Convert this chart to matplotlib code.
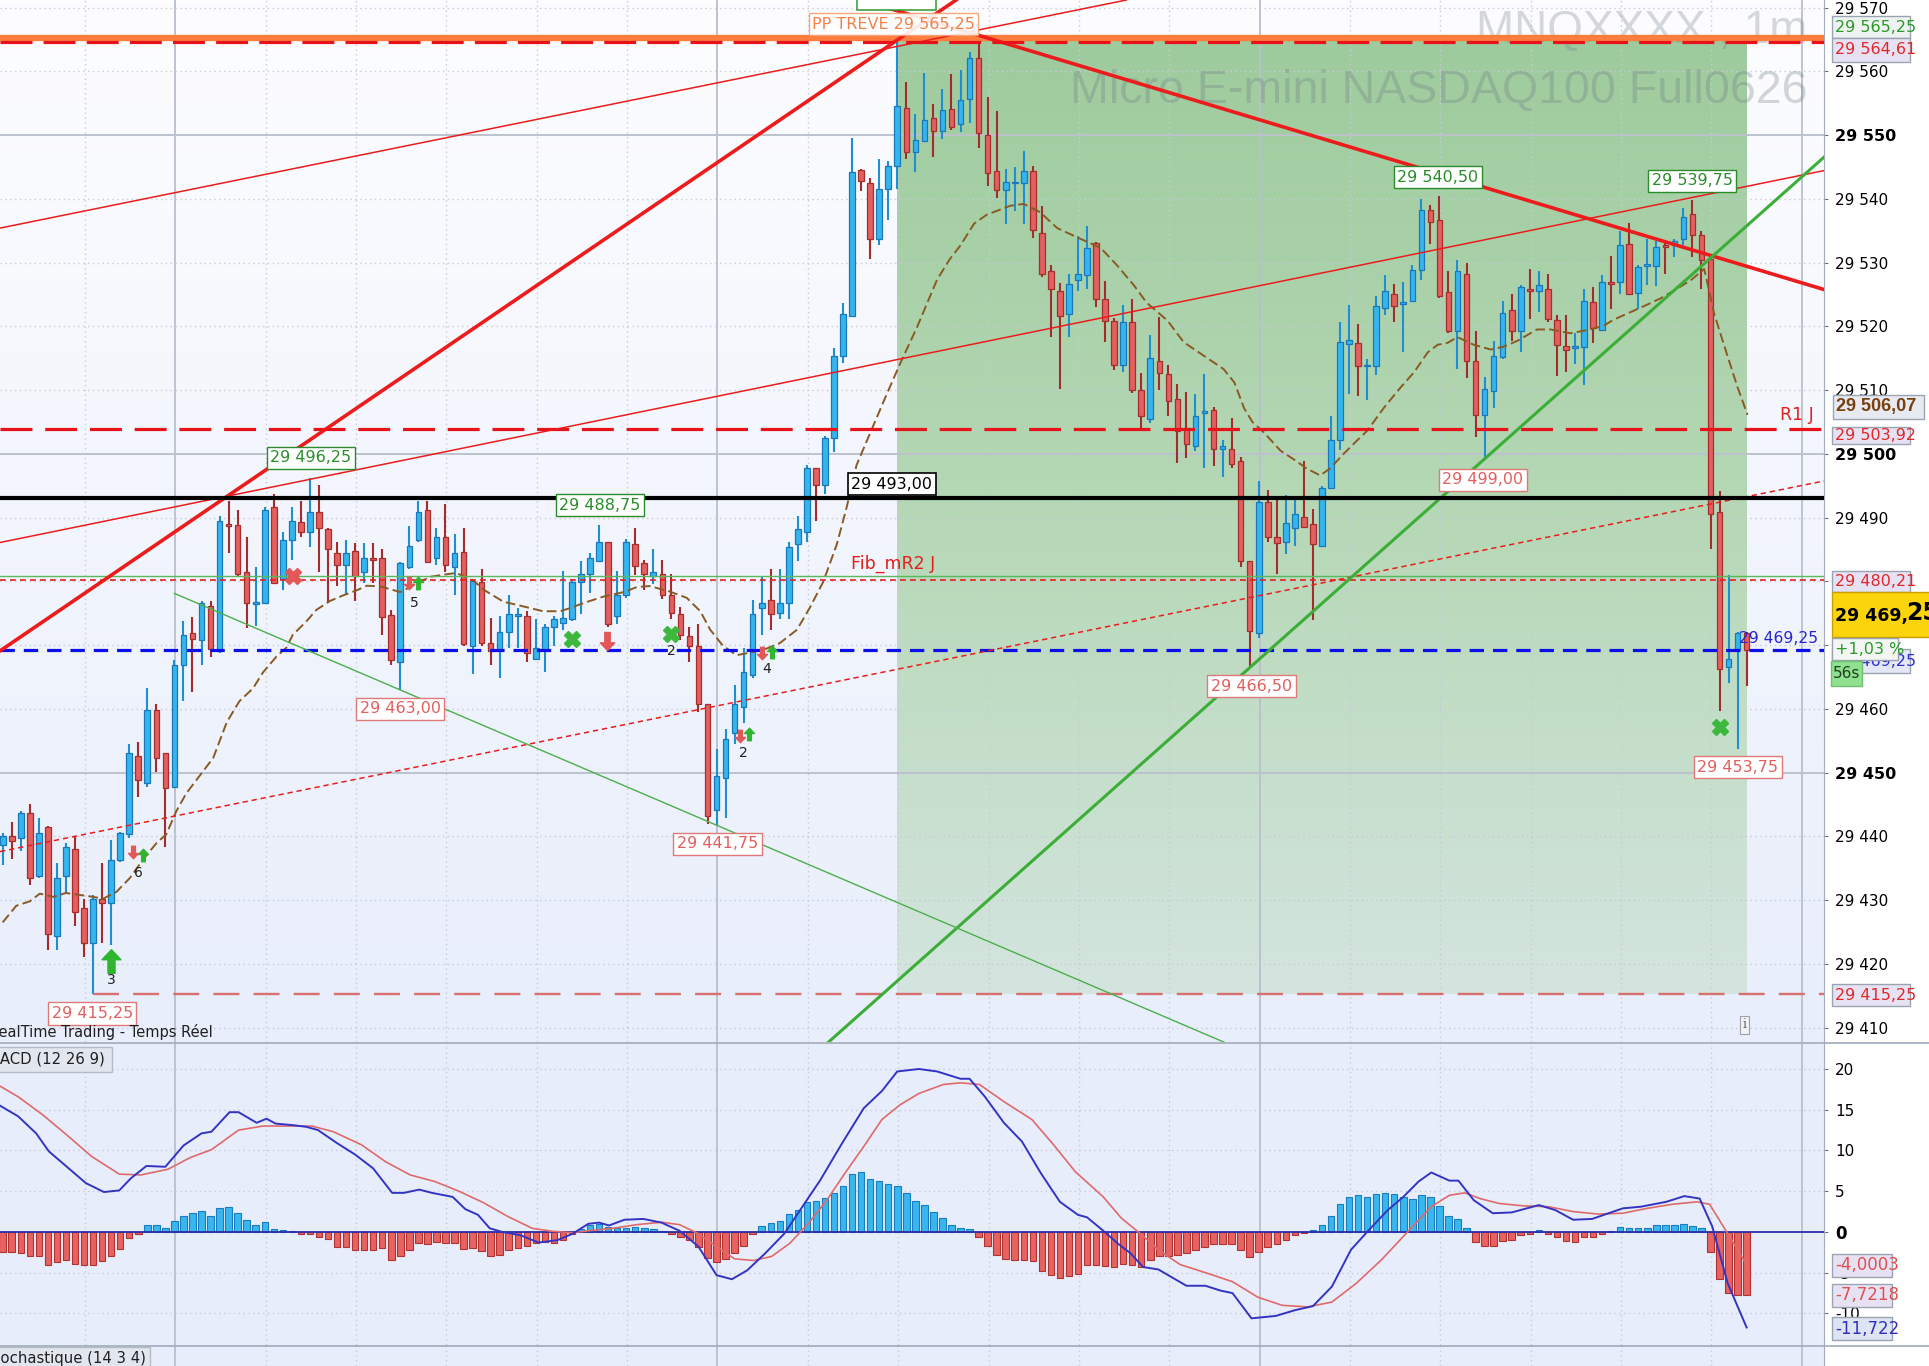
import numpy as np
import matplotlib
matplotlib.use("Agg")
import matplotlib.pyplot as plt
from matplotlib.path import Path
from matplotlib.patches import Rectangle
from matplotlib.lines import Line2D
from matplotlib.colors import LinearSegmentedColormap

plt.rcParams['font.family'] = ['DejaVu Sans']

# ---- MNQ 1 minute bars, bar index 0..193 ----
opens = [
    29438.6, 29440.0, 29439.7, 29443.6, 29433.8, 29441.4, 29424.3, 29433.8, 29438.0, 29428.8,
    29423.2, 29430.2, 29429.6, 29436.3, 29440.3, 29452.6, 29448.4, 29459.8, 29453.1, 29447.8,
    29466.8, 29471.9, 29470.8, 29476.1, 29469.1, 29488.9, 29488.9, 29481.4, 29476.4, 29476.6,
    29491.7, 29480.3, 29486.4, 29489.3, 29487.8, 29490.8, 29488.2, 29484.5, 29482.5, 29484.8,
    29481.4, 29483.6, 29483.6, 29474.7, 29467.4, 29482.2, 29486.4, 29491.2, 29483.6, 29487.0,
    29482.2, 29484.6, 29469.9, 29479.9, 29470.3, 29469.2, 29472.0, 29474.5, 29474.5, 29467.8,
    29469.2, 29472.8, 29473.4, 29474.1, 29479.9, 29481.2, 29483.2, 29486.2, 29474.5, 29477.8,
    29485.8, 29482.8, 29480.9, 29481.2, 29477.8, 29474.9, 29471.4, 29469.9, 29460.7, 29444.1,
    29449.1, 29456.2, 29460.3, 29465.3, 29475.8, 29477.0, 29475.1, 29476.6, 29485.8, 29487.8,
    29497.8, 29495.1, 29502.4, 29515.3, 29521.6, 29544.5, 29542.4, 29533.7, 29541.6, 29545.1,
    29554.25, 29547.4, 29549.1, 29552.6, 29550.65, 29554.1, 29551.7, 29555.6, 29562.1, 29550.0,
    29544.4, 29541.3, 29542.4, 29542.4, 29544.3, 29534.6, 29528.7, 29525.6, 29521.9, 29527.2,
    29528.0, 29533.0, 29524.2, 29520.8, 29514.0, 29520.6, 29510.0, 29505.4, 29514.5, 29512.5,
    29508.6, 29504.0, 29501.2, 29506.4, 29506.9, 29500.8, 29500.7, 29498.8, 29483.2, 29471.9,
    29492.4, 29487.0, 29486.2, 29488.4, 29490.1, 29489.0, 29485.6, 29494.6, 29502.2, 29517.2,
    29517.4, 29513.7, 29513.7, 29522.9, 29525.1, 29523.5, 29523.9, 29528.8, 29538.2, 29536.6,
    29525.3, 29519.2, 29528.2, 29514.5, 29506.1, 29509.9, 29515.2, 29522.5, 29519.2, 29525.9,
    29525.5, 29525.8, 29521.0, 29516.9, 29516.6, 29516.8, 29523.8, 29519.4, 29526.9, 29526.9,
    29532.9, 29525.2, 29529.4, 29529.4, 29532.7, 29532.7, 29533.7, 29537.6, 29534.3, 29530.5,
    29490.9, 29466.6, 29469.4, 29471.9,
]
highs = [
    29440.5, 29442.2, 29443.9, 29445.0, 29442.9, 29441.6, 29435.8, 29438.9, 29440.0, 29430.2,
    29430.8, 29435.8, 29439.4, 29440.7, 29454.5, 29454.8, 29463.2, 29460.7, 29453.1, 29467.7,
    29473.8, 29474.4, 29476.9, 29476.9, 29490.3, 29492.6, 29491.2, 29487.0, 29482.2, 29491.6,
    29493.7, 29487.8, 29491.6, 29492.6, 29496.25, 29495.1, 29488.4, 29486.1, 29486.4, 29486.0,
    29486.0, 29486.0, 29485.0, 29475.5, 29483.1, 29488.7, 29492.6, 29492.6, 29488.4, 29492.1,
    29487.4, 29488.4, 29480.3, 29482.0, 29474.3, 29474.5, 29477.8, 29475.8, 29475.3, 29474.1,
    29473.3, 29474.5, 29481.6, 29480.3, 29483.2, 29484.5, 29488.75, 29486.2, 29481.6, 29486.6,
    29488.4, 29483.4, 29485.1, 29483.4, 29481.2, 29475.9, 29472.8, 29473.3, 29460.7, 29453.7,
    29456.9, 29463.7, 29469.5, 29477.0, 29480.8, 29482.0, 29482.0, 29486.2, 29490.3, 29498.2,
    29497.8, 29502.8, 29516.6, 29523.7, 29549.5, 29544.7, 29543.2, 29546.2, 29545.9, 29565.25,
    29558.3, 29553.25, 29559.8, 29554.9, 29557.2, 29559.6, 29560.2, 29563.0, 29564.5, 29556.0,
    29553.8, 29544.6, 29545.0, 29547.5, 29545.1, 29538.9, 29529.6, 29526.8, 29528.2, 29534.2,
    29535.8, 29533.2, 29527.1, 29521.3, 29523.3, 29524.2, 29512.6, 29518.7, 29521.5, 29513.9,
    29510.9, 29509.7, 29509.3, 29512.5, 29507.4, 29502.2, 29505.6, 29499.5, 29483.2, 29495.7,
    29494.3, 29492.7, 29493.6, 29492.7, 29498.8, 29491.3, 29495.0, 29506.0, 29520.6, 29523.3,
    29520.3, 29514.8, 29524.7, 29528.1, 29526.6, 29526.9, 29529.6, 29540.0, 29539.1, 29540.5,
    29528.6, 29530.4, 29530.0, 29519.2, 29512.1, 29517.7, 29523.9, 29525.1, 29526.4, 29529.0,
    29528.6, 29528.2, 29521.7, 29521.7, 29519.0, 29525.8, 29526.1, 29528.0, 29531.0, 29534.9,
    29536.2, 29529.6, 29533.7, 29533.3, 29533.3, 29533.7, 29538.5, 29539.75, 29534.9, 29530.8,
    29494.1, 29481.0, 29472.1, 29472.1,
]
lows = [
    29435.5, 29436.4, 29437.7, 29432.4, 29433.5, 29422.1, 29422.1, 29431.0, 29426.0, 29421.0,
    29415.25, 29423.2, 29422.9, 29436.0, 29439.7, 29446.1, 29447.8, 29450.1, 29438.3, 29447.5,
    29461.2, 29462.6, 29466.8, 29468.2, 29468.8, 29484.5, 29480.6, 29472.7, 29473.0, 29476.4,
    29479.7, 29478.6, 29483.4, 29487.0, 29485.3, 29481.4, 29476.6, 29479.2, 29477.8, 29476.9,
    29479.7, 29479.7, 29471.6, 29466.8, 29463.0, 29482.0, 29486.2, 29483.1, 29482.5, 29481.4,
    29477.8, 29469.9, 29465.4, 29469.9, 29466.8, 29464.9, 29469.5, 29469.5, 29467.3, 29467.8,
    29465.8, 29469.9, 29472.4, 29473.7, 29474.9, 29478.2, 29483.2, 29472.8, 29473.3, 29477.4,
    29481.0, 29478.7, 29479.5, 29477.2, 29474.1, 29470.8, 29467.4, 29459.5, 29442.0, 29441.75,
    29442.8, 29454.5, 29457.8, 29464.9, 29471.6, 29472.4, 29474.1, 29474.1, 29483.2, 29486.2,
    29489.5, 29493.7, 29500.3, 29514.2, 29521.6, 29541.2, 29530.6, 29532.8, 29536.6, 29541.6,
    29546.2, 29544.25, 29548.9, 29546.6, 29549.3, 29550.8, 29550.5, 29551.9, 29548.0, 29542.0,
    29540.1, 29536.1, 29538.1, 29536.0, 29533.9, 29527.7, 29518.3, 29510.2, 29518.3, 29525.6,
    29525.9, 29523.1, 29517.5, 29513.2, 29512.8, 29509.5, 29503.5, 29504.9, 29510.0, 29506.0,
    29498.6, 29499.3, 29500.5, 29497.7, 29498.1, 29496.4, 29497.7, 29482.2, 29466.5, 29471.1,
    29486.2, 29481.1, 29484.3, 29485.6, 29488.5, 29473.9, 29485.5, 29494.6, 29500.6, 29509.4,
    29509.0, 29508.5, 29512.3, 29521.7, 29520.6, 29516.0, 29523.8, 29527.2, 29532.9, 29524.5,
    29519.0, 29513.3, 29511.9, 29502.7, 29499.0, 29507.2, 29514.9, 29517.7, 29516.0, 29521.1,
    29522.3, 29520.7, 29512.2, 29512.9, 29514.1, 29510.8, 29517.4, 29519.2, 29522.7, 29525.1,
    29524.9, 29522.7, 29526.4, 29526.3, 29528.2, 29530.9, 29532.7, 29530.8, 29525.9, 29485.0,
    29459.7, 29464.0, 29453.75, 29463.6,
]
closes = [
    29440.0, 29439.2, 29443.6, 29433.5, 29440.5, 29424.6, 29433.5, 29438.3, 29428.2, 29423.2,
    29430.2, 29429.6, 29436.3, 29440.5, 29453.0, 29448.9, 29459.8, 29452.3, 29447.5, 29466.8,
    29471.6, 29471.0, 29476.6, 29469.4, 29489.5, 29488.7, 29481.1, 29476.6, 29476.6, 29491.2,
    29479.7, 29486.4, 29489.5, 29487.8, 29490.8, 29488.4, 29485.0, 29482.5, 29484.5, 29480.8,
    29483.6, 29483.4, 29474.4, 29467.7, 29482.8, 29485.6, 29490.8, 29483.1, 29487.0, 29482.5,
    29484.5, 29470.2, 29480.0, 29470.3, 29469.1, 29472.0, 29474.9, 29474.9, 29468.7, 29469.5,
    29472.8, 29474.1, 29474.3, 29479.9, 29481.2, 29483.7, 29486.2, 29473.3, 29477.8, 29486.2,
    29482.4, 29481.2, 29481.4, 29477.8, 29475.1, 29471.6, 29469.9, 29460.7, 29443.2, 29449.5,
    29455.3, 29460.7, 29465.8, 29474.9, 29476.6, 29474.9, 29476.6, 29485.3, 29488.2, 29497.8,
    29495.1, 29502.4, 29515.3, 29522.0, 29544.25, 29542.8, 29533.7, 29541.6, 29545.1, 29554.5,
    29547.4, 29549.25, 29552.4, 29550.6, 29553.96, 29551.3, 29555.5, 29562.1, 29550.3, 29544.1,
    29541.3, 29542.7, 29542.7, 29544.4, 29535.1, 29528.2, 29525.8, 29521.6, 29526.6, 29528.2,
    29532.3, 29524.2, 29520.9, 29513.9, 29520.6, 29510.0, 29506.0, 29515.0, 29512.6, 29508.3,
    29503.5, 29501.5, 29506.0, 29506.7, 29500.8, 29501.2, 29498.4, 29483.2, 29472.2, 29492.4,
    29487.0, 29486.0, 29489.1, 29490.5, 29488.5, 29485.8, 29494.6, 29502.2, 29517.6, 29517.8,
    29513.7, 29514.0, 29523.2, 29525.6, 29523.2, 29523.8, 29528.8, 29538.2, 29536.3, 29524.7,
    29519.2, 29528.6, 29514.5, 29506.1, 29510.2, 29515.4, 29522.1, 29519.2, 29526.1, 29525.6,
    29526.4, 29521.2, 29517.0, 29516.35, 29516.8, 29523.9, 29519.8, 29526.9, 29526.6, 29532.7,
    29525.0, 29529.3, 29529.6, 29532.5, 29532.4, 29533.3, 29537.1, 29534.3, 29530.4, 29490.5,
    29466.3, 29467.8, 29471.9, 29469.25,
]

# dashed moving average (sampled along the curve)
ma_x = [0.0, 1.5, 3.0, 4.1, 5.6, 7.0, 8.5, 10.0, 11.1, 12.6, 14.1, 15.5, 17.0, 18.1, 19.2, 20.3,
        21.8, 23.3, 24.8, 26.2, 27.7, 28.8, 30.3, 31.4, 32.1, 33.6, 34.7, 36.2, 37.7, 39.2, 40.3,
        41.8, 44.0, 45.5, 47.3, 49.1, 50.2, 52.1, 53.2, 55.4, 57.2, 59.8, 61.7, 62.8, 64.3, 66.5,
        68.7, 70.2, 71.6, 73.8, 75.7, 77.2, 78.3, 79.7, 81.2, 82.3, 84.2, 86.0, 87.9, 89.3, 90.8,
        92.3, 93.4, 94.5, 96.0, 97.5, 99.3, 101.2, 103.4, 104.8, 106.0, 107.5, 108.9, 111.5, 113.0,
        114.8, 116.7, 119.3, 121.5, 123.3, 125.2, 126.6, 128.9, 130.7, 132.9, 135.1, 136.3, 137.4,
        138.3, 139.6, 141.4, 142.9, 144.3, 145.8, 146.9, 148.4, 149.9, 151.0, 152.9, 154.7, 156.2,
        157.7, 158.8, 159.9, 161.0, 162.8, 164.7, 166.1, 167.6, 169.8, 171.3, 173.5, 175.7, 177.2,
        178.3, 179.8, 181.7, 183.5, 185.3, 186.8, 188.3, 189.4, 190.9, 192.0, 193.1]
ma_y = [29426.5, 29429.1, 29429.8, 29431.0, 29430.5, 29431.1, 29430.8, 29430.5, 29430.2, 29431.3,
        29433.5, 29436.3, 29438.9, 29440.3, 29443.9, 29446.7, 29449.5, 29452.3, 29457.9, 29461.2,
        29463.2, 29465.7, 29468.2, 29469.6, 29471.6, 29473.7, 29475.5, 29476.9, 29477.8, 29478.6,
        29479.3, 29479.2, 29478.3, 29479.4, 29480.7, 29481.1, 29481.3, 29480.1, 29478.7, 29476.8,
        29476.2, 29475.3, 29475.3, 29475.8, 29476.6, 29477.6, 29478.3, 29479.1, 29479.25, 29478.4,
        29477.4, 29475.3, 29472.4, 29469.9, 29468.4, 29468.7, 29469.25, 29470.3, 29472.4, 29475.8,
        29479.9, 29485.75, 29491.6, 29498.25, 29503.25, 29508.25, 29514.1, 29519.9, 29527.3, 29530.5,
        29532.7, 29536.1, 29537.5, 29538.9, 29539.2, 29537.9, 29535.4, 29533.7, 29532.3, 29529.6,
        29526.4, 29523.7, 29520.9, 29517.5, 29515.4, 29513.3, 29511.2, 29507.1, 29505.0, 29503.3,
        29500.5, 29499.1, 29497.7, 29496.6, 29497.7, 29500.0, 29502.1, 29503.6, 29507.3, 29510.4,
        29512.8, 29515.9, 29517.1, 29517.4, 29518.3, 29517.1, 29516.35, 29516.8, 29517.7, 29519.5,
        29519.5, 29518.9, 29519.5, 29520.1, 29521.05, 29522.0, 29523.2, 29524.4, 29525.9, 29527.2,
        29529.0, 29522.0, 29515.25, 29510.4, 29506.1]

# MACD (12 26 9) histogram, one value per bar
macd_hist = [
    -2.4, -2.5, -2.6, -3.0, -3.0, -4.0, -3.7, -3.5, -3.9, -4.1,
    -4.0, -3.6, -2.9, -2.1, -0.8, -0.3, 0.9, 0.9, 0.5, 1.3,
    2.0, 2.3, 2.6, 2.0, 3.0, 3.1, 2.3, 1.5, 0.8, 1.2,
    0.4, 0.3, 0.15, -0.3, -0.2, -0.6, -0.9, -1.8, -1.8, -2.2,
    -2.2, -2.2, -2.0, -3.5, -3.0, -2.2, -1.4, -1.5, -1.2, -1.4,
    -1.4, -2.1, -2.0, -2.3, -2.9, -2.8, -2.2, -2.0, -1.7, -1.4,
    -1.2, -1.3, -1.0, -0.2, 0.4, 0.8, 1.0, 0.6, 0.5, 0.5,
    0.6, 0.5, 0.4, 0.1, -0.2, -0.6, -1.0, -1.8, -3.2, -3.7,
    -3.3, -2.6, -1.7, -0.3, 0.7, 1.1, 1.4, 2.2, 2.7, 3.7,
    3.8, 4.2, 4.8, 5.7, 7.1, 7.4, 6.5, 6.3, 5.9, 5.6,
    4.8, 3.8, 3.3, 2.4, 1.7, 0.9, 0.5, 0.4, -0.65, -1.7,
    -2.8, -3.3, -3.5, -3.4, -3.6, -4.8, -5.3, -5.7, -5.4, -5.1,
    -4.1, -4.1, -4.2, -4.3, -3.9, -4.0, -4.3, -3.4, -3.0, -2.9,
    -2.8, -2.6, -2.2, -1.8, -1.5, -1.5, -1.5, -2.2, -3.1, -2.4,
    -1.9, -1.5, -1.0, -0.4, -0.1, 0.25, 0.9, 1.9, 3.4, 4.3,
    4.5, 4.3, 4.7, 4.8, 4.7, 4.3, 4.1, 4.5, 4.3, 3.2,
    1.9, 1.6, 0.45, -1.2, -1.7, -1.7, -1.1, -1.0, -0.4, -0.2,
    0.2, -0.3, -0.65, -1.1, -1.2, -0.6, -0.65, -0.25, 0.15, 0.6,
    0.45, 0.45, 0.45, 0.85, 0.85, 0.85, 1.0, 0.75, 0.45, -2.5,
    -5.8, -7.5, -7.7, -7.72,
]
macd_x = [-0.3, 1.7, 3.7, 5.1, 7.1, 9.2, 11.2, 12.9, 14.2, 15.9, 18.0, 20.0, 22.0, 23.1, 25.1, 26.1,
          28.1, 29.2, 30.2, 32.2, 33.6, 34.9, 37.0, 39.0, 41.0, 43.1, 44.4, 46.1, 47.5, 49.8, 51.2,
          52.6, 53.9, 55.3, 57.3, 59.3, 61.4, 63.1, 64.8, 66.0, 67.1, 68.8, 70.9, 72.9, 74.9, 77.0,
          79.0, 80.7, 82.4, 84.4, 86.5, 88.5, 90.5, 92.9, 95.3, 97.3, 99.0, 101.4, 103.4, 106.0,
          107.0, 108.7, 110.8, 112.8, 114.9, 117.0, 119.0, 120.0, 121.8, 123.5, 124.8, 126.2, 127.9,
          129.6, 131.0, 133.1, 134.8, 136.1, 138.2, 140.9, 143.0, 145.0, 147.1, 149.2, 151.2, 153.3,
          155.0, 156.7, 158.1, 160.1, 161.1, 162.8, 164.9, 167.0, 170.0, 171.8, 173.8, 175.9, 177.2,
          179.3, 181.3, 184.1, 186.1, 187.8, 189.2, 190.9, 193.0]
macd_y = [15.5, 14.2, 12.1, 9.9, 8.0, 6.0, 4.9, 5.1, 6.6, 8.1, 8.0, 10.6, 12.1, 12.3, 14.7, 14.7,
          13.4, 13.9, 13.3, 13.1, 12.9, 12.5, 10.9, 9.5, 7.8, 4.8, 4.8, 5.2, 4.8, 4.3, 2.8,
          2.1, 0.45, 0.0, -0.4, -1.3, -1.0, -0.2, 1.0, 1.15, 0.8, 1.5, 1.6, 1.15, 0.15, -1.8,
          -5.3, -5.8, -4.7, -2.6, -0.2, 3.1, 6.4, 10.9, 15.2, 17.3, 19.7, 20.0, 19.7, 18.8,
          18.8, 16.6, 13.4, 11.1, 7.2, 3.7, 2.1, 1.8, 0.15, -1.5, -2.6, -4.3, -4.6,
          -5.7, -6.6, -6.6, -7.2, -7.5, -10.6, -10.3, -9.6, -9.1, -6.7, -2.2, 0.25, 2.7,
          4.3, 6.2, 7.3, 6.3, 6.3, 3.9, 2.3, 2.4, 3.3, 2.7, 1.5, 1.6, 2.1,
          2.9, 3.1, 3.7, 4.4, 4.1, 0.65, -6.3, -11.72]
sig_x = [-0.3, 1.7, 4.4, 7.1, 9.8, 12.9, 15.3, 18.3, 20.7, 23.1, 26.1, 28.8, 31.5, 34.2, 36.6, 39.7,
         42.4, 45.1, 47.8, 50.5, 53.2, 55.9, 58.6, 60.7, 63.1, 64.8, 67.5, 70.2, 72.9, 74.9, 77.0,
         79.0, 81.0, 83.1, 85.1, 87.1, 89.2, 91.2, 93.2, 95.3, 97.3, 99.3, 101.4, 104.1, 106.0,
         108.1, 110.8, 113.9, 116.3, 118.7, 121.8, 123.8, 125.9, 127.9, 130.3, 133.4, 136.1, 138.9,
         141.6, 144.4, 147.1, 149.8, 152.6, 155.3, 158.1, 160.1, 161.8, 163.5, 165.6, 168.3, 171.1,
         173.8, 176.5, 179.3, 182.0, 184.8, 187.5, 188.9, 190.9, 193.0]
sig_y = [17.9, 16.6, 14.4, 11.9, 9.3, 7.1, 7.0, 7.7, 9.1, 10.1, 12.5, 13.0, 13.0, 13.0, 12.3, 10.7,
         8.6, 7.0, 6.2, 5.0, 3.6, 1.9, 0.45, 0.1, -0.1, 0.15, 0.45, 0.9, 1.2, 0.9, -0.2,
         -1.8, -3.3, -3.5, -3.0, -1.4, 1.1, 3.9, 7.2, 10.5, 13.8, 15.6, 17.0, 18.1, 18.3,
         18.1, 16.0, 13.8, 10.7, 7.4, 4.3, 1.7, -0.2, -2.2, -4.0, -5.1, -6.1, -8.0,
         -9.0, -9.2, -8.6, -6.3, -3.4, -0.2, 3.1, 4.5, 4.8, 4.1, 3.5, 3.2, 3.1,
         2.5, 2.2, 2.3, 2.9, 3.4, 3.7, 3.4, -0.2, -4.0]

# swing high / low tags (bar, price of the box, value shown)
hi_tag_x = [34.1, 66.1, 158.8, 187.0]
hi_tag_y = [29499.4, 29491.9, 29543.4, 29542.8]
hi_tag_v = [29496.25, 29488.75, 29540.50, 29539.75]
lo_tag_x = [9.9, 44.0, 79.1, 138.2, 163.8, 192.0]
lo_tag_y = [29412.2, 29460.0, 29438.8, 29463.5, 29495.9, 29450.8]
lo_tag_v = [29415.25, 29463.00, 29441.75, 29466.50, 29499.00, 29453.75]

# user trend lines: anchor bar, anchor price, slope (points per bar)
thick_red = [(99.0, 29564.9, 0.965), (106.0, 29566.5, -0.4263)]
thin_red = [(-0.3, 29535.4, 0.287), (106.0, 29516.8, 0.289)]
dotted_red = [(-0.3, 29437.6, 0.288)]
green_up = [(156.3, 29489.5, 1.26)]
green_down = (19.0, 29478.1, -0.606)

# horizontal levels
pp_treve = 29565.25
pivot_top = 29564.61
r1 = 29503.92
black_level = 29493.00
fib_mr2 = 29480.21
green_level = 29480.8
last_price = 29469.25
session_low = 29415.25
entry_bar, exit_bar = 99.0, 193.0

W, H = 1929, 1366
AXR = 1824  # right edge of the plotting area, in pixels
fig = plt.figure(figsize=(W / 100, H / 100), dpi=100)
fig.patch.set_facecolor('white')

X0, X1 = -0.30, (AXR - 2.7) / 9.036
P0, P1 = 29407.73, 29571.18
M0, M1 = -13.87, 23.19

ax = fig.add_axes([0, 1 - 1042 / H, AXR / W, 1042 / H])
axm = fig.add_axes([0, 1 - 1345 / H, AXR / W, 302 / H])
axs = fig.add_axes([0, 0, AXR / W, 21 / H])


def fmt_price(v):
    return f"{int(v) // 1000} {v % 1000:06.2f}".replace('.', ',')


def grid_lines(a, hdotted, hsolid):
    for k in range(20):
        xg = 9.1 + 10 * k
        if k % 6 == 1:
            a.axvline(xg, color='#b8bfce', lw=1.3, zorder=1)
        else:
            a.axvline(xg, color='#c6cbd8', lw=1.0, ls=(0, (1, 2.5)), zorder=1)
    for yv in hdotted:
        a.axhline(yv, color='#c6cbd8', lw=1.0, ls=(0, (1, 2.5)), zorder=1)
    for yv in hsolid:
        a.axhline(yv, color='#bcc2ce', lw=1.4, zorder=1)


# ---------------- price panel ----------------
bg = LinearSegmentedColormap.from_list('bg', ['#e8eefb', '#fdfdff'])
ax.imshow(np.linspace(1, 0, 256)[:, None], extent=(X0, X1, P0, P1), cmap=bg,
          aspect='auto', zorder=0)
box_cm = LinearSegmentedColormap.from_list('box', ['#d4e5df', '#b6d8b6', '#9ecb9d'])
ax.imshow(np.linspace(1, 0, 256)[:, None],
          extent=(entry_bar, exit_bar, session_low, pivot_top), cmap=box_cm,
          aspect='auto', zorder=0.5)

price_ticks = list(range(29410, 29571, 10))
grid_lines(ax, [t for t in price_ticks if t % 50], [t for t in price_ticks if t % 50 == 0])

wm_x = 1807 / AXR
ax.text(wm_x, 29564.4, 'MNQXXXX , 1m', transform=ax.get_yaxis_transform(), ha='right',
        va='baseline', fontsize=33, color='#6c7a84', alpha=0.28, family='Liberation Sans', zorder=2)
ax.text(wm_x, 29555.0, 'Micro E-mini NASDAQ100 Full0626', transform=ax.get_yaxis_transform(),
        ha='right', va='baseline', fontsize=33.5, color='#6c7a84', alpha=0.3,
        family='Liberation Sans', zorder=2)

o, h, l, c = map(np.array, (opens, highs, lows, closes))
xs = np.arange(len(o))
up = c >= o
body_lo = np.minimum(o, c)
body_h = np.maximum(np.abs(c - o), 0.3)
ax.vlines(xs[up], l[up], h[up], color='#1f8fd3', lw=1.5, zorder=3)
ax.vlines(xs[~up], l[~up], h[~up], color='#a52c2c', lw=1.5, zorder=3)
ax.bar(xs[up], body_h[up], bottom=body_lo[up], width=0.62, color='#35b5ee',
       edgecolor='#1b78b8', lw=0.9, zorder=3.2)
ax.bar(xs[~up], body_h[~up], bottom=body_lo[~up], width=0.62, color='#e2605f',
       edgecolor='#a82d2d', lw=0.9, zorder=3.2)

ax.plot(ma_x, ma_y, color='#8a5a24', lw=1.4, ls=(0, (5, 2.2)), zorder=3.5)

ax.axhline(pp_treve, color='#ff7e3e', lw=4.6, zorder=4)
ax.axhline(pivot_top, color='#e8121a', lw=2.3, ls=(0, (10, 3.5)), zorder=4.1)
ax.axhline(r1, color='#e8121a', lw=2.3, ls=(0, (10, 4)), zorder=4)
ax.axhline(black_level, color='black', lw=3.0, zorder=4.2)
ax.axhline(green_level, color='#5cb85c', lw=1.0, zorder=4)
ax.axhline(fib_mr2, color='#e2201c', lw=1.2, ls=(0, (3.5, 2.5)), zorder=4)
ax.axhline(last_price, color='#0c10e8', lw=2.3, ls=(0, (4.5, 2.8)), zorder=4)
ax.hlines(session_low, 10, X1, color='#d87070', lw=1.7, ls=(0, (11, 6)), zorder=4)

for x0, y0, s in thick_red:
    ax.axline((x0, y0), slope=s, color='#ec1c1c', lw=2.6, zorder=4)
for x0, y0, s in thin_red:
    ax.axline((x0, y0), slope=s, color='#ec1c1c', lw=1.1, zorder=4)
for x0, y0, s in dotted_red:
    ax.axline((x0, y0), slope=s, color='#ec1c1c', lw=1.1, ls=(0, (3.5, 2.5)), zorder=4)
for x0, y0, s in green_up:
    ax.axline((x0, y0), slope=s, color='#3cae38', lw=2.2, zorder=4)
gx, gy, gs = green_down
ax.plot([gx, X1], [gy, gy + gs * (X1 - gx)], color='#4caf4c', lw=1.0, zorder=4)

# signal arrows / crosses
up_arrow = Path([(0, 1), (0.8, 0.15), (0.3, 0.15), (0.3, -1), (-0.3, -1), (-0.3, 0.15),
                 (-0.8, 0.15), (0, 1)], closed=True)
dn_arrow = Path([(x, -y) for x, y in up_arrow.vertices], closed=True)
ax.plot([12], [29420.4], marker=up_arrow, ms=17, color='#2fb52f', ls='none', zorder=5)
ax.plot([15.5, 46, 82.6, 85.1], [29437.0, 29479.8, 29456.0, 29468.9], marker=up_arrow, ms=9,
        color='#2fb52f', ls='none', zorder=5)
ax.plot([14.4, 45, 81.6, 84], [29437.5, 29479.8, 29455.8, 29468.7], marker=dn_arrow, ms=9,
        color='#e25858', ls='none', zorder=5)
ax.plot([66.9], [29470.6], marker=dn_arrow, ms=13, color='#e25858', ls='none', zorder=5)
ax.plot([63, 74, 190], [29470.9, 29471.75, 29457.1], marker='X', ms=12, color='#3cb83c',
        ls='none', zorder=5)
ax.plot([32.1], [29480.8], marker='X', ms=11, color='#e25858', ls='none', zorder=5)
for xn, yn, s in [(12, 29417.4, '3'), (15, 29434.3, '6'), (45.5, 29476.6, '5'),
                  (74, 29469.0, '2'), (82, 29453.1, '2'), (84.6, 29466.2, '4')]:
    ax.text(xn, yn, s, fontsize=10, ha='center', va='center', color='#202020', zorder=5)

# labels on the chart
for xv, yv, v in zip(hi_tag_x, hi_tag_y, hi_tag_v):
    ax.text(xv, yv, fmt_price(v), color='#2a8c2a', fontsize=11.5, ha='center', va='center',
            zorder=8, bbox=dict(boxstyle='square,pad=0.22', fc='white', ec='#2a8c2a', lw=1.0))
for xv, yv, v in zip(lo_tag_x, lo_tag_y, lo_tag_v):
    ax.text(xv, yv, fmt_price(v), color='#e06060', fontsize=11.5, ha='center', va='center',
            zorder=8, bbox=dict(boxstyle='square,pad=0.22', fc='white', ec='#e07a7a', lw=1.0))
ax.text(98.4, 29495.2, fmt_price(black_level), color='black', fontsize=11.5, ha='center',
        va='center', zorder=8, bbox=dict(boxstyle='square,pad=0.22', fc='white', ec='black', lw=1.2))
ax.text(98.6, 29567.4, 'PP TREVE ' + fmt_price(pp_treve), color='#f2824a', fontsize=11.5,
        ha='center', va='center', zorder=8,
        bbox=dict(boxstyle='square,pad=0.2', fc='white', ec='#f5a070', lw=1.0, alpha=0.9))
ax.add_patch(Rectangle((94.5, 29569.6), 8.8, 5.0, fc='white', ec='#2e9a2e', lw=1.1, zorder=7))
ax.text(93.9, 29481.3, 'Fib_mR2 J', color='#e2201c', fontsize=12.5, ha='left', va='bottom', zorder=8)
ax.text(200.4, 29504.6, 'R1 J', color='#e2201c', fontsize=12.5, ha='right', va='bottom', zorder=8)
ax.text(192.1, 29471.0, fmt_price(last_price), color='#2626d8', fontsize=11.2, ha='left',
        va='center', zorder=8)
ax.text(192.8, 29410.4, 'i', color='#606060', fontsize=9, ha='center', va='center', zorder=8,
        family='DejaVu Serif',
        bbox=dict(boxstyle='square,pad=0.2', fc='#f2f2f6', ec='#a0a0a8', lw=0.8))

ax.set_xlim(X0, X1)
ax.set_ylim(P0, P1)
for s in ['top', 'left', 'bottom']:
    ax.spines[s].set_visible(False)
ax.spines['right'].set_color('#a4acbc')
ax.tick_params(axis='x', bottom=False, labelbottom=False)
ax.yaxis.tick_right()
ax.set_yticks(price_ticks)
ax.set_yticklabels(['' if t in (29470, 29480) else f"{t // 1000} {t % 1000:03d}"
                    for t in price_ticks])
ax.tick_params(axis='y', length=3, pad=5, color='#707070', labelsize=11)
for t, lab in zip(price_ticks, ax.get_yticklabels()):
    if t % 50 == 0:
        lab.set_fontweight('bold')
        lab.set_fontsize(11.5)

# ---------------- MACD panel ----------------
axm.set_facecolor('#e7edfb')
grid_lines(axm, [20, 15, 10, 5, -5, -10], [])
hist = np.array(macd_hist)
pos = hist >= 0
axm.bar(xs[pos], hist[pos], width=0.72, color='#38b7ee', edgecolor='#1b7cbf', lw=0.8, zorder=3)
axm.bar(xs[~pos], hist[~pos], width=0.72, color='#e8625f', edgecolor='#b03232', lw=0.8, zorder=3)
axm.axhline(0, color='#2c2ca8', lw=1.3, zorder=3.5)
axm.plot(sig_x, sig_y, color='#e06a6a', lw=1.2, zorder=4)
axm.plot(macd_x, macd_y, color='#3434c4', lw=1.4, zorder=4.1)
axm.set_xlim(X0, X1)
axm.set_ylim(M0, M1)
for s in ['top', 'left', 'bottom']:
    axm.spines[s].set_visible(False)
axm.spines['right'].set_color('#a4acbc')
axm.tick_params(axis='x', bottom=False, labelbottom=False)
axm.yaxis.tick_right()
macd_ticks = [20, 15, 10, 5, 0, -5, -10]
axm.set_yticks(macd_ticks)
axm.set_yticklabels([str(t) for t in macd_ticks])
axm.tick_params(axis='y', length=3, pad=5, color='#707070', labelsize=11)
axm.get_yticklabels()[4].set_fontweight('bold')
axm.get_yticklabels()[4].set_fontsize(12)

# stochastic strip (only its top is visible)
axs.set_facecolor('#e7edfb')
axs.set_xlim(X0, X1)
grid_lines(axs, [], [])
axs.set_xticks([])
axs.set_yticks([])
for s in ['top', 'left', 'bottom']:
    axs.spines[s].set_visible(False)
axs.spines['right'].set_color('#a4acbc')

# panel separators
for yy in (1042.5, 1345.5):
    fig.add_artist(Line2D([0, 1], [1 - yy / H] * 2, transform=fig.transFigure,
                          color='#a2aaba', lw=1.2, zorder=3))

layer = [5.0]


def px_box(x0, y0, x1, y1, fc, ec, lw=1.0):
    layer[0] += 0.1
    fig.add_artist(Rectangle((x0 / W, 1 - y1 / H), (x1 - x0) / W, (y1 - y0) / H,
                             transform=fig.transFigure, fc=fc, ec=ec, lw=lw, zorder=layer[0]))


def px_text(x, y, s, **kw):
    layer[0] += 0.1
    fig.text(x / W, 1 - y / H, s, va='center', ha='left', zorder=layer[0], **kw)


# price scale boxes
px_box(1832, 16, 1910, 38, '#eef2f0', '#9aa4b0')
px_text(1835, 27, fmt_price(pp_treve), color='#2a9a2a', fontsize=11.5)
px_box(1832, 38, 1910, 62, '#e6e2f4', '#9aa4b0')
px_text(1835, 50, fmt_price(pivot_top), color='#e02828', fontsize=11.5)
px_box(1833, 395, 1924, 419, '#e8eaf2', '#9aa4b0')
px_text(1836, 407, '29 506,07', color='#7a4010', fontsize=13, fontweight='bold',
        family='Liberation Sans')
px_box(1832, 427, 1910, 444, '#e6e2f4', '#9aa4b0')
px_text(1835, 435.5, fmt_price(r1), color='#e02828', fontsize=11.5)
px_box(1832, 571, 1910, 592, '#e6e2f4', '#9aa4b0')
px_text(1835, 581.5, fmt_price(fib_mr2), color='#e02828', fontsize=11.5)
px_box(1832, 649, 1910, 673, '#e4e8f6', '#9aa4b0')
px_text(1835, 662, fmt_price(last_price), color='#3030d0', fontsize=11.5)
px_box(1832, 592, 1940, 637, '#fbd40c', '#c8a000')
px_text(1835, 616, '29 469,', color='black', fontsize=12.5, fontweight='bold')
px_text(1906, 613, '25', color='black', fontsize=17, fontweight='bold')
px_box(1832, 638, 1898, 660, '#f4f6f4', '#9aa4b0')
px_text(1835, 649.5, '+1,03 %', color='#2a9a2a', fontsize=11.5)
px_box(1831, 661, 1862, 686, '#8fe08f', '#70c070')
px_text(1833, 673.5, '56s', color='#204020', fontsize=11)
px_box(1832, 984, 1910, 1006, '#e6e2f4', '#9aa4b0')
px_text(1835, 995, fmt_price(session_low), color='#e02828', fontsize=11.5)

# MACD scale boxes
px_box(1832, 1254, 1892, 1277, '#e6e2f4', '#9aa4b0')
px_text(1835, 1265.5, '-4,0003', color='#e05050', fontsize=12)
px_box(1832, 1284, 1892, 1307, '#e6e2f4', '#9aa4b0')
px_text(1835, 1295.5, '-7,7218', color='#e05050', fontsize=12)
px_box(1832, 1317, 1892, 1340, '#dde4f4', '#9aa4b0')
px_text(1835, 1328.5, '-11,722', color='#3030c0', fontsize=12)

# panel captions (cut at the left edge like the screenshot)
px_text(-11, 1032, 'RealTime Trading - Temps Réel', color='#202020', fontsize=10.5)
px_box(-5, 1047, 112, 1072, '#e2e6ee', '#b4bcc8')
px_text(-13, 1059.5, 'MACD (12 26 9)', color='#202020', fontsize=10.7)
px_box(-5, 1347, 150, 1372, '#e2e6ee', '#b4bcc8')
px_text(-15, 1359, 'Stochastique (14 3 4)', color='#202020', fontsize=10.7)

fig.savefig('out.png', dpi=100)
